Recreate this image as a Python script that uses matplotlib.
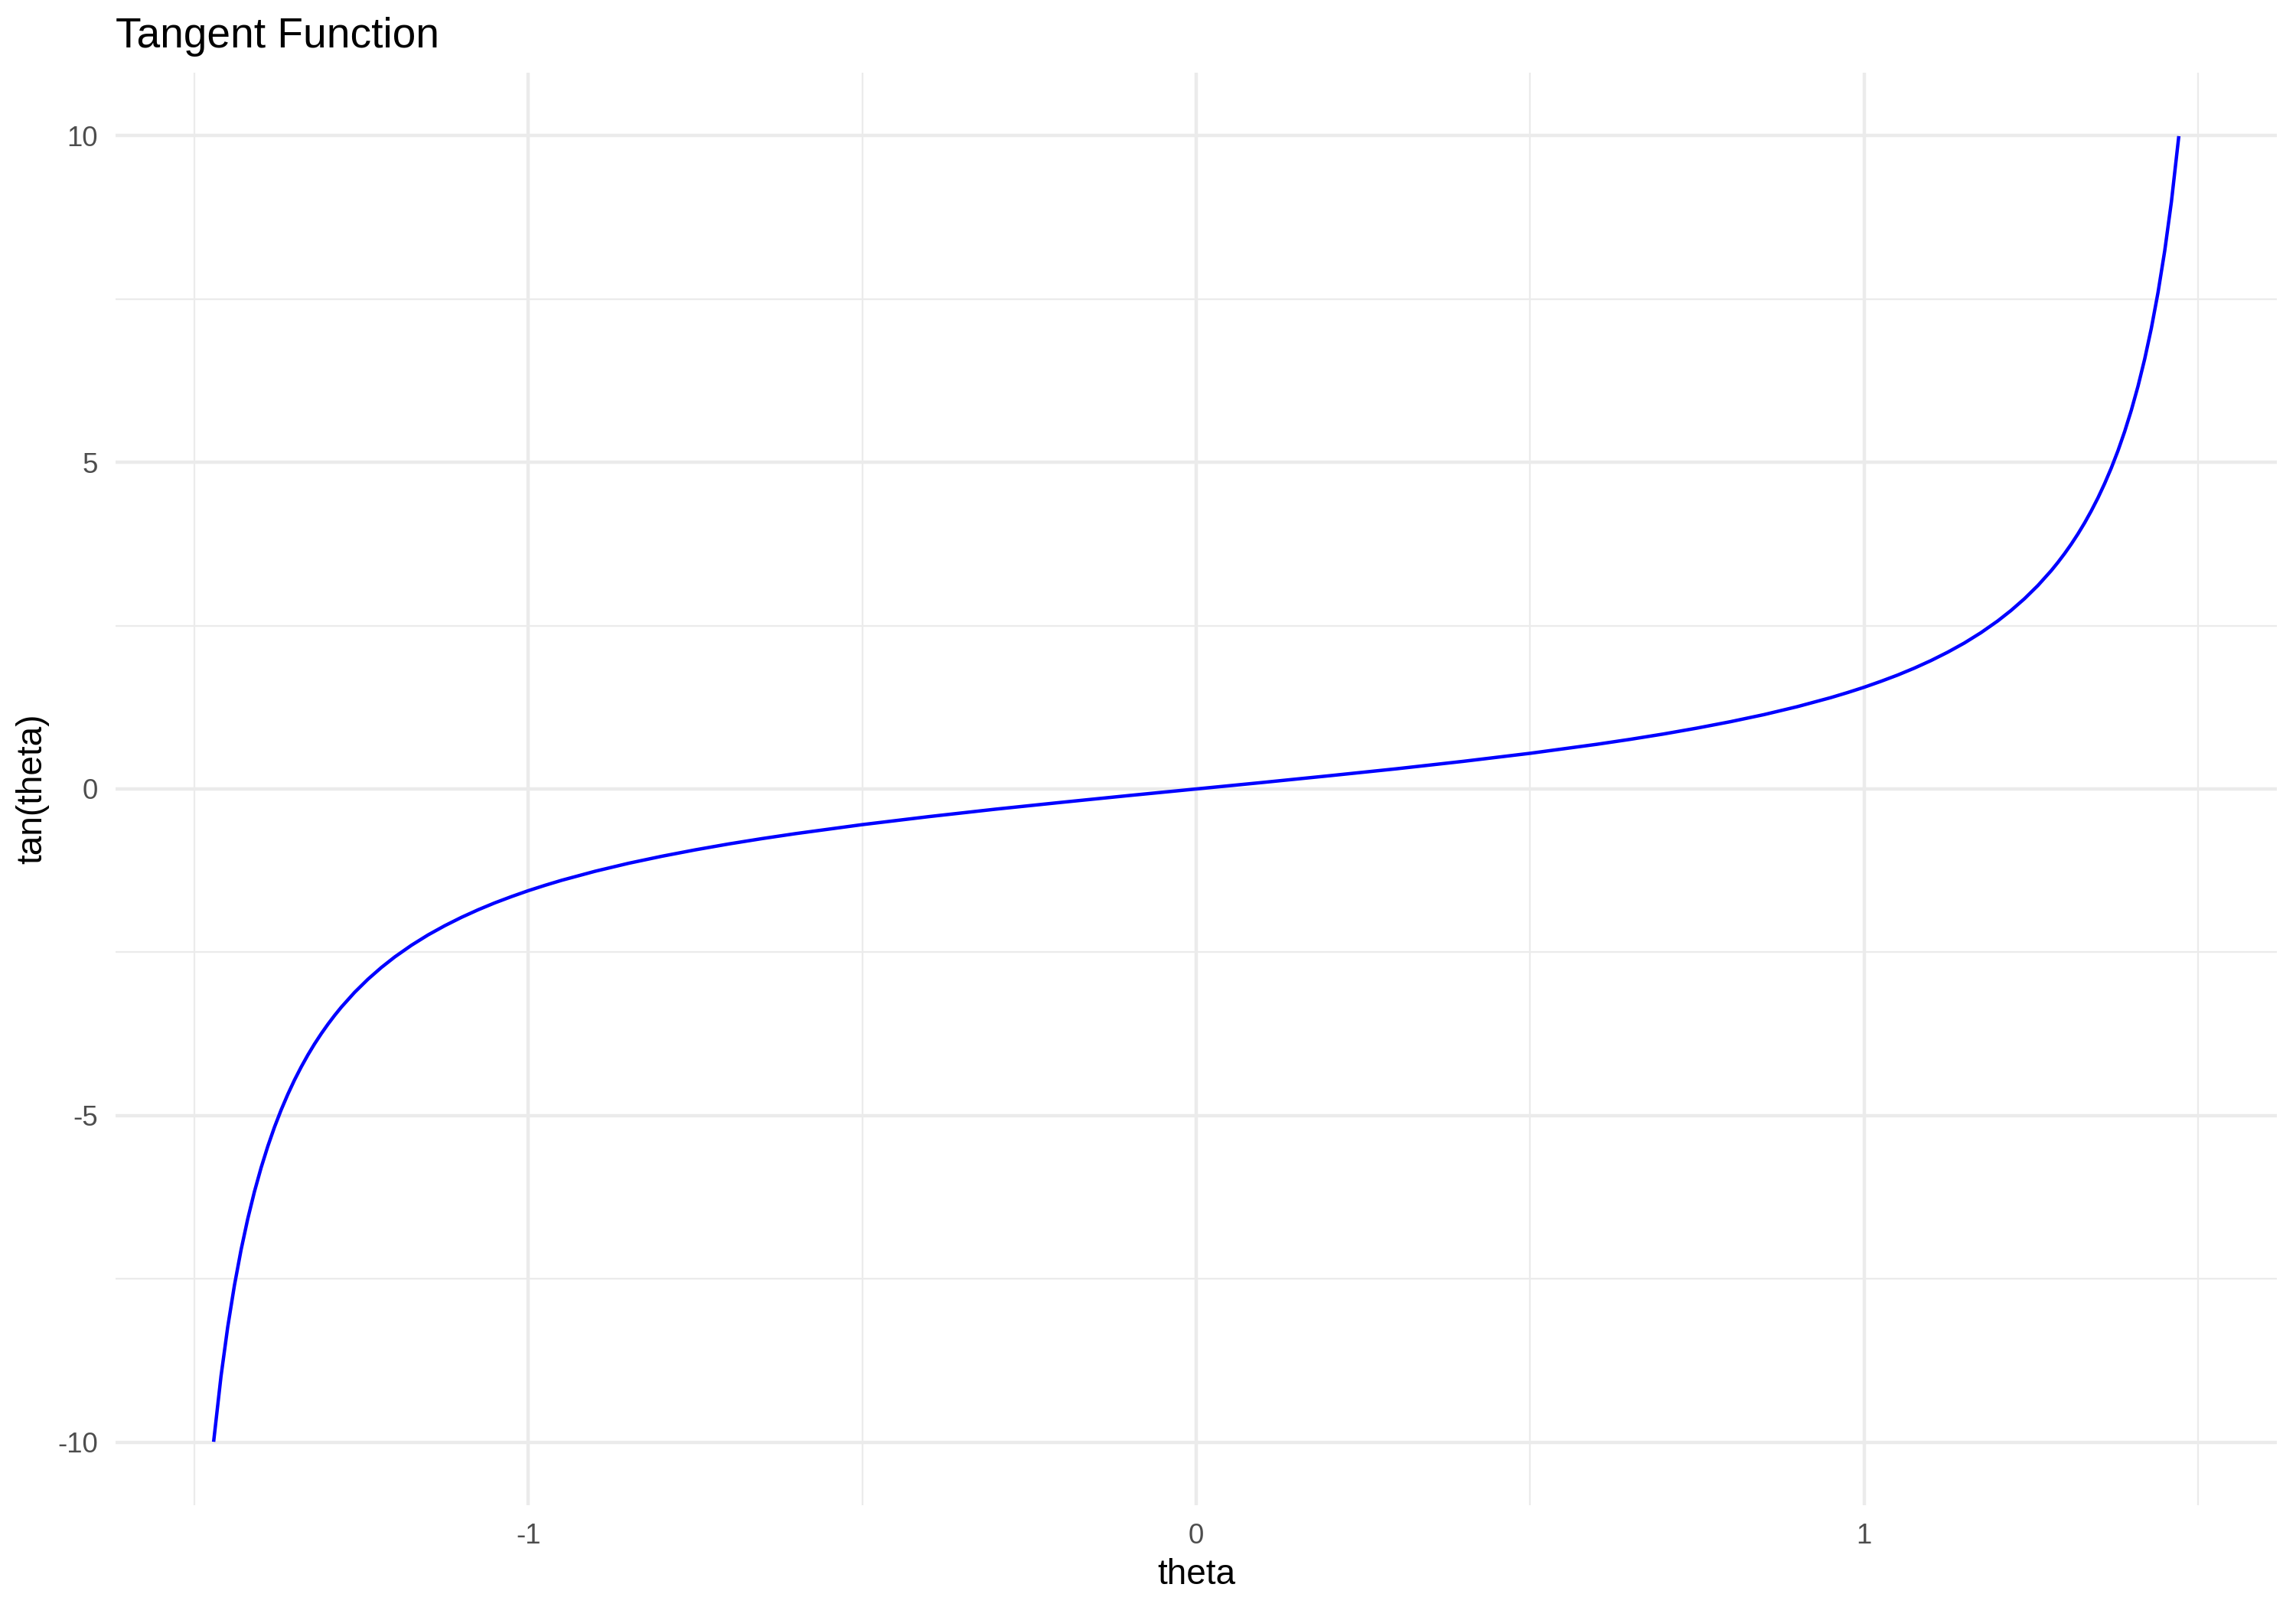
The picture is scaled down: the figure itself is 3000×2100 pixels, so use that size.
import matplotlib
matplotlib.use("Agg")
import matplotlib.pyplot as plt
from matplotlib.ticker import FixedLocator

plt.rcParams['font.family'] = ['Liberation Sans', 'DejaVu Sans']
plt.rcParams['axes.unicode_minus'] = False

# values (theta, tan(theta))
theta = [-1.4708, -1.46, -1.45, -1.44, -1.43, -1.42, -1.41, -1.40, -1.39, -1.38,
         -1.37, -1.36, -1.35, -1.34, -1.33, -1.32, -1.31, -1.30, -1.29, -1.28,
         -1.26, -1.24, -1.22, -1.20, -1.175, -1.15, -1.125, -1.10, -1.075, -1.05,
         -1.025, -1.00, -0.975, -0.95, -0.90, -0.85, -0.80, -0.75, -0.70, -0.65,
         -0.60, -0.50, -0.40, -0.30, -0.20, -0.10, 0.00,
         0.10, 0.20, 0.30, 0.40, 0.50, 0.60,
         0.65, 0.70, 0.75, 0.80, 0.85, 0.90, 0.95, 0.975, 1.00, 1.025,
         1.05, 1.075, 1.10, 1.125, 1.15, 1.175, 1.20, 1.22, 1.24, 1.26,
         1.28, 1.29, 1.30, 1.31, 1.32, 1.33, 1.34, 1.35, 1.36, 1.37,
         1.38, 1.39, 1.40, 1.41, 1.42, 1.43, 1.44, 1.45, 1.46, 1.4708]
tan_theta = [-9.967, -8.988, -8.238, -7.602, -7.055, -6.581, -6.165, -5.798, -5.471, -5.177,
             -4.913, -4.674, -4.455, -4.256, -4.072, -3.903, -3.747, -3.602, -3.467, -3.341,
             -3.113, -2.912, -2.733, -2.572, -2.393, -2.234, -2.093, -1.965, -1.849, -1.743,
             -1.647, -1.557, -1.475, -1.398, -1.260, -1.138, -1.030, -0.932, -0.842, -0.760,
             -0.684, -0.546, -0.423, -0.309, -0.203, -0.100, 0.000,
             0.100, 0.203, 0.309, 0.423, 0.546, 0.684,
             0.760, 0.842, 0.932, 1.030, 1.138, 1.260, 1.398, 1.475, 1.557, 1.647,
             1.743, 1.849, 1.965, 2.093, 2.234, 2.393, 2.572, 2.733, 2.912, 3.113,
             3.341, 3.467, 3.602, 3.747, 3.903, 4.072, 4.256, 4.455, 4.674, 4.913,
             5.177, 5.471, 5.798, 6.165, 6.581, 7.055, 7.602, 8.238, 8.988, 9.967]

x_major = [-1, 0, 1]
x_minor = [-1.5, -0.5, 0.5, 1.5]
y_major = [-10, -5, 0, 5, 10]
y_minor = [-7.5, -2.5, 2.5, 7.5]

W, H = 3000, 2100
fig = plt.figure(figsize=(10, 7), dpi=300)
# panel box in pixels: left 151, right 2975, top 95, bottom 1967
ax = fig.add_axes([151 / W, 1 - 1967 / H, (2975 - 151) / W, (1967 - 95) / H])

ax.plot(theta, tan_theta, color='#0000FF', linewidth=1.07, zorder=3)

xr = max(theta) - min(theta)
yr = max(tan_theta) - min(tan_theta)
ax.set_xlim(min(theta) - 0.05 * xr, max(theta) + 0.05 * xr)
ax.set_ylim(min(tan_theta) - 0.05 * yr, max(tan_theta) + 0.05 * yr)

ax.xaxis.set_major_locator(FixedLocator(x_major))
ax.xaxis.set_minor_locator(FixedLocator(x_minor))
ax.yaxis.set_major_locator(FixedLocator(y_major))
ax.yaxis.set_minor_locator(FixedLocator(y_minor))
ax.set_xticklabels([str(v) for v in x_major])
ax.set_yticklabels([str(v) for v in y_major])

ax.grid(which='major', color='#EBEBEB', linewidth=1.07)
ax.grid(which='minor', color='#EBEBEB', linewidth=0.53)
ax.set_axisbelow(True)
for s in ax.spines.values():
    s.set_visible(False)
ax.tick_params(which='both', length=0)
ax.tick_params(which='major', labelsize=8.8, labelcolor='#4D4D4D', pad=5.5)

ax.set_xlabel('theta', fontsize=11, color='black', labelpad=2.75)
ax.set_ylabel('tan(theta)', fontsize=11, color='black', labelpad=2.75)
ax.set_title('Tangent Function', loc='left', fontsize=13.2, color='black', pad=8)

fig.savefig('out.png', dpi=300, facecolor='white')
